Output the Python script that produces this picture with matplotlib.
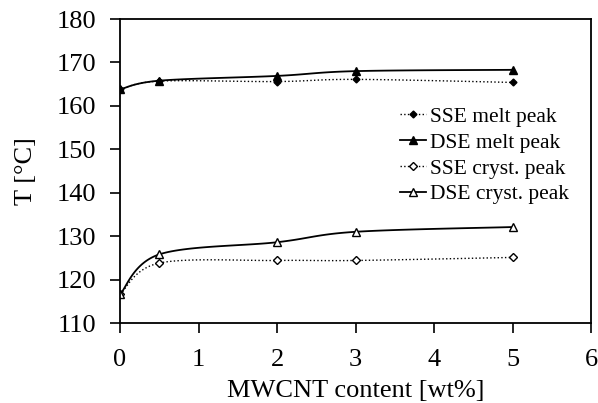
import numpy as np
import matplotlib.pyplot as plt

plt.rcParams['font.family'] = ['Liberation Serif', 'DejaVu Serif']

mwcnt = [0, 0.5, 2, 3, 5]
sse_melt = [163.8, 165.7, 165.6, 166.1, 165.4]
dse_melt = [163.8, 165.8, 166.9, 168.0, 168.3]
sse_cryst = [116.6, 123.8, 124.4, 124.4, 125.1]
dse_cryst = [116.6, 125.8, 128.6, 131.0, 132.1]


def smooth(x, y, n=30):
    # excel-like smoothed line (catmull-rom through bezier control points)
    x = np.asarray(x, float)
    y = np.asarray(y, float)
    px = np.concatenate([[x[0]], x, [x[-1]]])
    py = np.concatenate([[y[0]], y, [y[-1]]])
    xs, ys = [], []
    t = np.linspace(0, 1, n)
    for i in range(1, len(px) - 2):
        p0 = np.array([px[i], py[i]])
        p3 = np.array([px[i + 1], py[i + 1]])
        p1 = p0 + (np.array([px[i + 1], py[i + 1]]) - np.array([px[i - 1], py[i - 1]])) / 6
        p2 = p3 - (np.array([px[i + 2], py[i + 2]]) - np.array([px[i], py[i]])) / 6
        b = ((1 - t) ** 3)[:, None] * p0 + (3 * (1 - t) ** 2 * t)[:, None] * p1 \
            + (3 * (1 - t) * t ** 2)[:, None] * p2 + (t ** 3)[:, None] * p3
        xs.extend(b[:, 0])
        ys.extend(b[:, 1])
    return xs, ys


fig = plt.figure(figsize=(5.98, 4.03), dpi=100)
ax = fig.add_axes([0.2007, 0.1985, 0.7876, 0.7543])

series = [
    (sse_melt, ':', 'D', 'black', 3.5, 'SSE melt peak'),
    (dse_melt, '-', '^', 'black', 5.5, 'DSE melt peak'),
    (sse_cryst, ':', 'D', 'white', 4, 'SSE cryst. peak'),
    (dse_cryst, '-', '^', 'white', 6, 'DSE cryst. peak'),
]
handles = []
for vals, ls, mk, fc, ms, lab in series:
    sx, sy = smooth(mwcnt, vals)
    lw = 1.0 if ls == ':' else 1.3
    ax.plot(sx, sy, ls=ls, color='black', lw=lw)
    ax.plot(mwcnt, vals, ls='none', marker=mk, mfc=fc, mec='black', mew=1.0, ms=ms)
    h, = ax.plot([], [], ls=ls, color='black', lw=lw, marker=mk, mfc=fc,
                 mec='black', mew=1.0, ms=ms, label=lab)
    handles.append(h)

ax.set_xlim(0, 6)
ax.set_ylim(110, 180)
ax.set_xticks(range(0, 7))
ax.set_yticks(range(110, 181, 10))
ax.tick_params(direction='out', length=7, width=1.2, labelsize=19)
ax.tick_params(axis='x', pad=12)
ax.tick_params(axis='y', pad=10)
ax.tick_params(top=False, right=False)
for s in ax.spines.values():
    s.set_linewidth(1.3)

ax.set_xlabel('MWCNT content [wt%]', fontsize=19, labelpad=6)
ax.set_ylabel('T [°C]', fontsize=19, labelpad=14)

ax.legend(handles=handles, loc='upper right', bbox_to_anchor=(0.972, 0.74),
          frameon=False, fontsize=15.5, handlelength=1.2, handletextpad=0.2,
          labelspacing=0.27, borderaxespad=0)

fig.savefig('out.png', dpi=100)
